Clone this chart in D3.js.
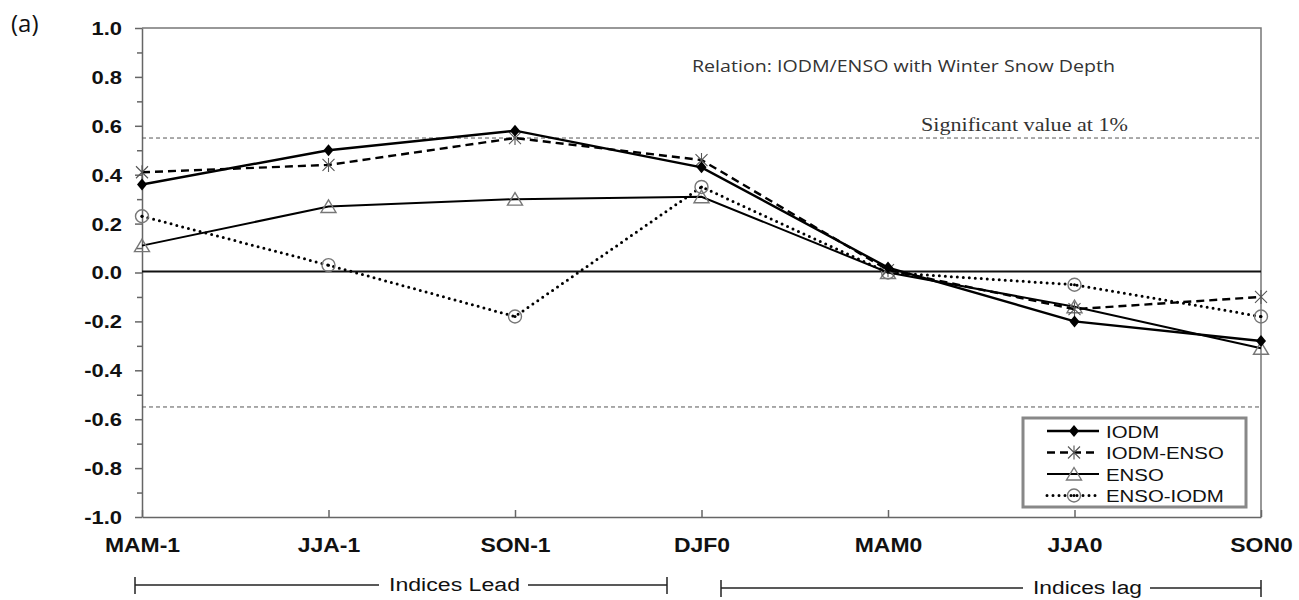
<!DOCTYPE html>
<html>
<meta charset="utf-8">
<title>IODM / ENSO lead-lag</title>
<style>
  body { margin: 0; background: #fff; font-family: "Liberation Sans", Arial, sans-serif; }
  .axis path, .axis line { fill: none; stroke: #666; stroke-width: 1.5; }
</style>
<script src="https://d3js.org/d3.v7.min.js"></script>
<body>
<script>
// data
var seasons = ['MAM-1', 'JJA-1', 'SON-1', 'DJF0', 'MAM0', 'JJA0', 'SON0'];
var iodm     = [0.36, 0.50, 0.58, 0.43, 0.02, -0.20, -0.28];
var iodmEnso = [0.41, 0.44, 0.55, 0.46, 0.01, -0.15, -0.10];
var enso     = [0.11, 0.27, 0.30, 0.31, 0.00, -0.14, -0.31];
var ensoIodm = [0.23, 0.03, -0.18, 0.35, 0.00, -0.05, -0.18];
var yTicks = [-1.0, -0.8, -0.6, -0.4, -0.2, 0.0, 0.2, 0.4, 0.6, 0.8, 1.0];
var sigValue = 0.55;

var series = [
  {name: 'ENSO-IODM', values: ensoIodm, dash: '0,6', width: 3, cap: 'round', marker: 'circle'},
  {name: 'ENSO', values: enso, dash: null, width: 2, cap: 'butt', marker: 'triangle'},
  {name: 'IODM-ENSO', values: iodmEnso, dash: '8,5', width: 2.4, cap: 'butt', marker: 'star'},
  {name: 'IODM', values: iodm, dash: null, width: 2.4, cap: 'butt', marker: 'diamond'}
];
var legendOrder = ['IODM', 'IODM-ENSO', 'ENSO', 'ENSO-IODM'];

var W = 1299, H = 600;
var m = {left: 142, right: 1261, top: 28, bottom: 517};

var svg = d3.select('body').append('svg')
    .attr('width', W).attr('height', H);

var x = d3.scalePoint().domain(seasons).range([m.left, m.right]);
var y = d3.scaleLinear().domain([-1, 1]).range([m.bottom, m.top]);

// frame (top and right)
svg.append('path')
    .attr('d', 'M' + m.left + ',' + m.top + 'H' + m.right + 'V' + m.bottom)
    .attr('fill', 'none').attr('stroke', '#777').attr('stroke-width', 1.5);

// minor y ticks
var minor = d3.range(-0.9, 1.0, 0.2);
svg.append('g').attr('class', 'axis')
    .attr('transform', 'translate(' + m.left + ',0)')
    .call(d3.axisLeft(y).tickValues(minor).tickSize(5).tickFormat(''))
    .select('.domain').remove();

// y axis
var sy = 1.22;
var yAxis = svg.append('g').attr('class', 'axis')
    .attr('transform', 'translate(' + m.left + ',0)')
    .call(d3.axisLeft(y).tickValues(yTicks).tickSize(7).tickSizeOuter(0)
      .tickFormat(function(d) { return d.toFixed(1); }));
yAxis.selectAll('text')
    .attr('x', -20 / sy).attr('dy', '0.36em')
    .attr('transform', 'scale(' + sy + ',1)')
    .style('font-family', '"Liberation Sans", Arial, sans-serif')
    .style('font-size', '18px').style('font-weight', 'bold').attr('fill', '#111');

// x axis (ticks point inward)
var xAxis = svg.append('g').attr('class', 'axis')
    .attr('transform', 'translate(0,' + m.bottom + ')')
    .call(d3.axisBottom(x).tickSize(-7).tickSizeOuter(0));
xAxis.selectAll('text')
    .attr('y', 0).attr('dy', 0)
    .attr('transform', 'translate(0,35) scale(1.12,1)')
    .style('font-family', '"Liberation Sans", Arial, sans-serif')
    .style('font-size', '20.5px').style('font-weight', 'bold').attr('fill', '#111');

// zero line
svg.append('line')
    .attr('x1', m.left).attr('x2', m.right).attr('y1', y(0) - 1).attr('y2', y(0) - 1)
    .attr('stroke', '#111').attr('stroke-width', 2);

// significance lines
[sigValue, -sigValue].forEach(function(v) {
  svg.append('line')
      .attr('x1', m.left).attr('x2', m.right).attr('y1', y(v)).attr('y2', y(v))
      .attr('stroke', '#555').attr('stroke-width', 1).attr('stroke-dasharray', '4,3');
});

svg.append('text')
    .attr('x', 921).attr('y', y(sigValue) - 7)
    .attr('textLength', 207).attr('lengthAdjust', 'spacingAndGlyphs')
    .style('font-family', '"Liberation Serif", "Times New Roman", serif')
    .style('font-size', '18px').attr('fill', '#333')
    .text('Significant value at 1%');

svg.append('text')
    .attr('x', 692).attr('y', 72)
    .attr('textLength', 423).attr('lengthAdjust', 'spacingAndGlyphs')
    .style('font-family', '"Open Sans", sans-serif')
    .style('font-size', '15.5px').attr('fill', '#333')
    .text('Relation: IODM/ENSO with Winter Snow Depth');

svg.append('text')
    .attr('x', 11).attr('y', 32)
    .style('font-family', '"Open Sans", sans-serif')
    .style('font-size', '24px').attr('fill', '#111')
    .text('(a)');

// markers
function drawMarker(g, type) {
  if (type === 'diamond') {
    g.append('path').attr('d', 'M0,-6L5,0L0,6L-5,0Z').attr('fill', '#000');
  } else if (type === 'star') {
    g.append('path').attr('d', 'M-6,-6L6,6M-6,6L6,-6M0,-7L0,7')
        .attr('stroke', '#555').attr('stroke-width', 1.1).attr('fill', 'none');
  } else if (type === 'triangle') {
    g.append('path').attr('d', 'M0,-6.5L7.5,6L-7.5,6Z')
        .attr('stroke', '#777').attr('stroke-width', 1.4).attr('fill', 'none');
  } else if (type === 'circle') {
    g.append('circle').attr('r', 6.5)
        .attr('stroke', '#777').attr('stroke-width', 1.4).attr('fill', 'none');
    g.append('circle').attr('r', 1.5).attr('fill', '#000');
  }
}

var line = d3.line()
    .x(function(d, i) { return x(seasons[i]); })
    .y(function(d) { return y(d); });

series.forEach(function(s) {
  svg.append('path')
      .attr('d', line(s.values))
      .attr('fill', 'none').attr('stroke', '#000')
      .attr('stroke-width', s.width)
      .attr('stroke-linecap', s.cap)
      .attr('stroke-dasharray', s.dash);
  s.values.forEach(function(v, i) {
    var g = svg.append('g').attr('transform', 'translate(' + x(seasons[i]) + ',' + y(v) + ')');
    drawMarker(g, s.marker);
  });
});

// legend
var lg = svg.append('g');
lg.append('rect')
    .attr('x', 1023).attr('y', 418).attr('width', 223).attr('height', 89)
    .attr('fill', '#fff').attr('stroke', '#888').attr('stroke-width', 3);
legendOrder.forEach(function(name, i) {
  var s = series.filter(function(d) { return d.name === name; })[0];
  var ry = 431 + i * 21.5;
  lg.append('line')
      .attr('x1', 1047).attr('x2', 1099).attr('y1', ry).attr('y2', ry)
      .attr('stroke', '#000').attr('stroke-width', s.width)
      .attr('stroke-linecap', s.cap).attr('stroke-dasharray', s.dash);
  drawMarker(lg.append('g').attr('transform', 'translate(1074,' + ry + ')'), s.marker);
  lg.append('text')
      .attr('transform', 'translate(1106,' + (ry + 6.5) + ') scale(1.2,1)')
      .style('font-size', '17px').attr('fill', '#111')
      .text(name);
});

// lead / lag brackets
function bracket(x1, x2, yy, label, tx, tw) {
  var g = svg.append('g').attr('stroke', '#222').attr('stroke-width', 1.5);
  g.append('line').attr('x1', x1).attr('x2', x1).attr('y1', yy - 8).attr('y2', yy + 9);
  g.append('line').attr('x1', x2).attr('x2', x2).attr('y1', yy - 8).attr('y2', yy + 9);
  g.append('line').attr('x1', x1).attr('x2', tx - 10).attr('y1', yy).attr('y2', yy);
  g.append('line').attr('x1', tx + tw + 8).attr('x2', x2).attr('y1', yy).attr('y2', yy);
  svg.append('text')
      .attr('x', tx).attr('y', yy + 6)
      .attr('textLength', tw).attr('lengthAdjust', 'spacingAndGlyphs')
      .style('font-size', '18px').attr('fill', '#111')
      .text(label);
}
bracket(135, 667, 585, 'Indices Lead', 389, 131);
bracket(721, 1261, 588, 'Indices lag', 1033, 109);
</script>
</body>
</html>
